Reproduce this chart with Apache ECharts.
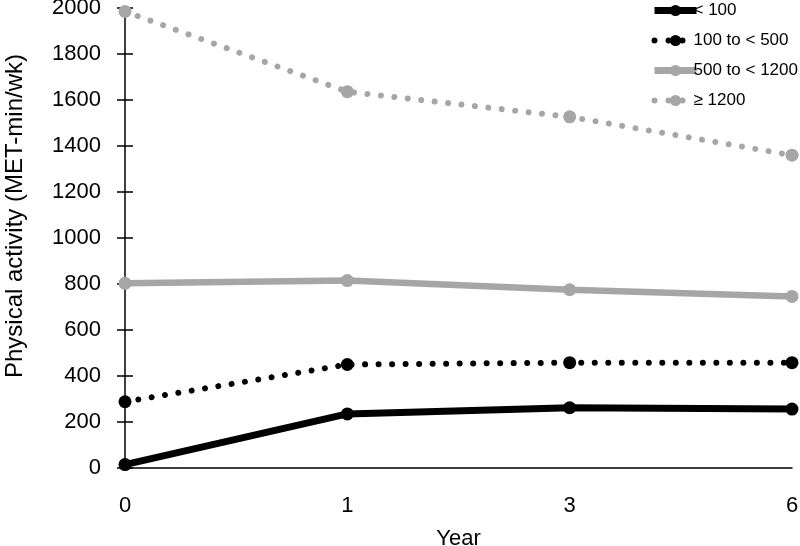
<!DOCTYPE html>
<html>
<head>
<meta charset="utf-8">
<script src="https://cdn.jsdelivr.net/npm/echarts@6/dist/echarts.min.js"></script>
<style>html,body{margin:0;padding:0;background:#fff}#c{width:800px;height:546px}</style>
</head>
<body>
<div id="c"></div>
<script>
var years = ['0', '1', '3', '6'];
var seriesNames = ['< 100', '100 to < 500', '500 to < 1200', '≥ 1200'];
var lt100 = [15, 235, 262, 256];
var s100to500 = [288, 450, 458, 458];
var s500to1200 = [803, 815, 775, 746];
var ge1200 = [1985, 1636, 1527, 1360];
var yTicks = {min: 0, max: 2000, interval: 200};
var xTitle = 'Year';
var yTitle = 'Physical activity (MET-min/wk)';

var FONT = 'Liberation Sans';
var GRAY = '#a6a6a6';
var DOT = [0.01, 13.5];
var chart = echarts.init(document.getElementById('c'));

function mk(name, data, color, width, dotted, sym, z) {
  return {
    name: name, type: 'line', data: data, z: z,
    symbol: 'circle', symbolSize: sym,
    itemStyle: {color: color},
    lineStyle: dotted ? {color: color, width: width, type: DOT, cap: 'round'} : {color: color, width: width},
    emphasis: {disabled: true},
    animation: false
  };
}

function legItem(name, color, width, dotted) {
  return {
    name: name,
    itemStyle: {color: color},
    lineStyle: dotted ? {color: color, width: width, type: [0.01, 14], cap: 'round'} : {color: color, width: width}
  };
}

chart.setOption({
  animation: false,
  grid: {left: 125, right: 8, top: 8, bottom: 78, outerBoundsMode: 'none'},
  legend: {
    orient: 'vertical', left: 651, top: 2, padding: 0, itemWidth: 42, itemHeight: 14, itemGap: 13,
    textStyle: {fontFamily: FONT, fontSize: 17, color: '#000', padding: [0, 0, 0, -8]},
    data: [
      legItem(seriesNames[0], '#000', 7, false),
      legItem(seriesNames[1], '#000', 6, true),
      legItem(seriesNames[2], GRAY, 7, false),
      legItem(seriesNames[3], GRAY, 6, true)
    ]
  },
  xAxis: {
    type: 'category', data: years, boundaryGap: false,
    name: xTitle, nameLocation: 'middle', nameGap: 60,
    nameTextStyle: {fontFamily: FONT, fontSize: 22, color: '#000'},
    axisLine: {lineStyle: {color: '#000', width: 1.5}},
    axisTick: {show: false},
    axisLabel: {fontFamily: FONT, fontSize: 22, color: '#000', margin: 27},
    splitLine: {show: false}
  },
  yAxis: [{
    type: 'value', min: yTicks.min, max: yTicks.max, interval: yTicks.interval,
    name: yTitle, nameLocation: 'middle', nameGap: 98,
    nameTextStyle: {fontFamily: FONT, fontSize: 24, color: '#000', padding: [0, 0, 0, 44]},
    axisLine: {show: true, lineStyle: {color: '#000', width: 1.5}},
    axisTick: {show: true, length: 8, lineStyle: {color: '#000', width: 1.5}},
    axisLabel: {fontFamily: FONT, fontSize: 22, color: '#000', margin: 24, padding: [4, 0, 0, 0], formatter: function (v) { return String(v); }},
    splitLine: {show: false}
  }, {
    type: 'value', min: yTicks.min, max: yTicks.max, interval: yTicks.interval, position: 'left',
    axisLine: {show: false},
    axisTick: {show: true, inside: true, length: 8, lineStyle: {color: '#000', width: 1.5}},
    axisLabel: {show: false},
    splitLine: {show: false}
  }],
  series: [
    mk(seriesNames[0], lt100, '#000', 7, false, 13, 4),
    mk(seriesNames[1], s100to500, '#000', 6, true, 13, 3),
    mk(seriesNames[2], s500to1200, GRAY, 6.5, false, 13, 2),
    mk(seriesNames[3], ge1200, GRAY, 6, true, 13, 1)
  ]
});
</script>
</body>
</html>
